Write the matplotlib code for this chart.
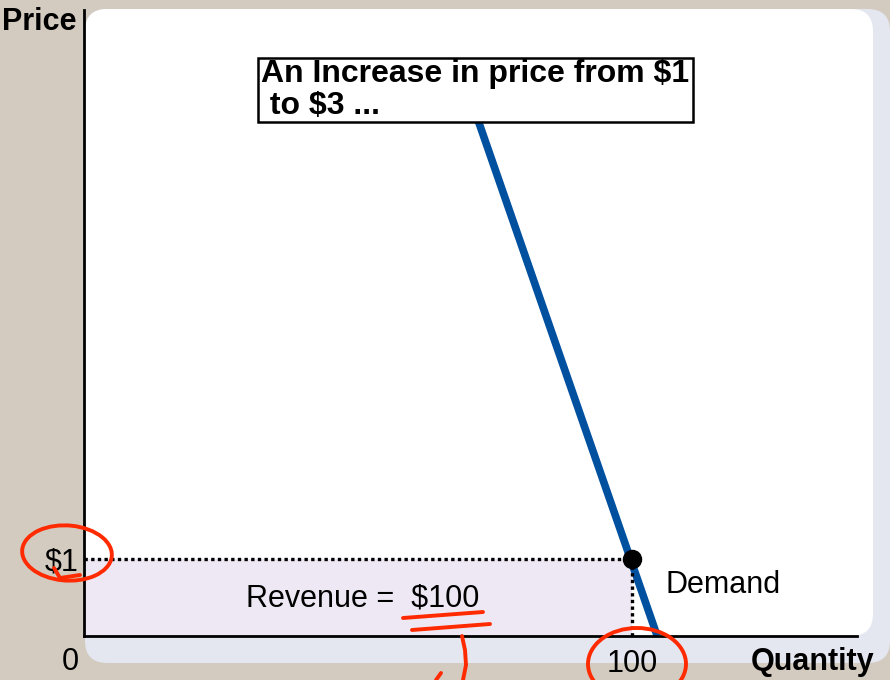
import matplotlib
matplotlib.use('Agg')
import matplotlib.pyplot as plt
from matplotlib.patches import FancyBboxPatch, Rectangle, Ellipse
import numpy as np

plt.rcParams['font.family'] = ['Liberation Sans', 'DejaVu Sans']

# demand curve (quantity, price)
demand_q = [104.6, 71.9]
demand_p = [0.0, 6.7]
# point on the curve
price = 1
quantity = 100
revenue = price * quantity

W, H = 890, 680
FS = 22
fig = plt.figure(figsize=(W / 100, H / 100), dpi=100)
fig.patch.set_facecolor('#d4cbc0')

def px(x, y):
    # pixel (from top-left) -> figure fraction
    return x / W, 1 - y / H

# slide panel: light bevel + white face
bevel = FancyBboxPatch(px(85, 663), (W - 85) / W, (663 - 9) / H,
                       boxstyle='round,pad=0,rounding_size=0.025',
                       transform=fig.transFigure, fc='#e4e7ef', ec='none',
                       mutation_aspect=W / H, zorder=-2)
face = FancyBboxPatch(px(85, 636), (873 - 85) / W, (636 - 9) / H,
                      boxstyle='round,pad=0,rounding_size=0.025',
                      transform=fig.transFigure, fc='white', ec='none',
                      mutation_aspect=W / H, zorder=-1)
fig.patches.extend([bevel, face])

ax = fig.add_axes([84 / W, 44 / H, 773 / W, 626 / H])
ax.set_zorder(2)
ax.patch.set_alpha(0)
ax.set_xlim(0, 773 / 5.48)
ax.set_ylim(0, 626 / 77)
for s in ['top', 'right']:
    ax.spines[s].set_visible(False)
for s in ['left', 'bottom']:
    ax.spines[s].set_linewidth(2)
    ax.spines[s].set_zorder(5)

# revenue rectangle
ax.fill_between([0, quantity], 0, price, color='#ede8f3', zorder=1, lw=0)
ax.plot([0, quantity], [price, price], ls=(0, (1, 1)), color='black', lw=2.4, zorder=3)
ax.plot([quantity, quantity], [0, price], ls=(0, (1, 1)), color='black', lw=2.4, zorder=3)

ax.plot(demand_q, demand_p, color='#0050a0', lw=5.5, solid_capstyle='butt', zorder=2)
ax.plot([quantity], [price], 'o', color='black', ms=13, zorder=4)

ax.set_xticks([quantity], ['100'])
ax.set_yticks([price], ['$1'])
ax.tick_params(length=0, labelsize=FS)
ax.tick_params(axis='x', pad=9)
ax.tick_params(axis='y', pad=4)

ax.text(quantity / 2 + 0.9, 0.49, 'Revenue =  $%d' % revenue, fontsize=FS,
        ha='center', va='center', zorder=3)
ax.text(106.2, 0.66, 'Demand', fontsize=FS, ha='left', va='center')

fig.text(*px(2, 22), 'Price', fontsize=FS, fontweight='bold', ha='left', va='center', zorder=3)
fig.text(*px(874, 662), 'Quantity', fontsize=FS, fontweight='bold', ha='right', va='center', zorder=3)
fig.text(*px(70, 662), '0', fontsize=FS, ha='center', va='center', zorder=3)

# callout box
box = Rectangle(px(258, 122), (693 - 258) / W, (122 - 58) / H, transform=fig.transFigure,
                fc='white', ec='black', lw=1.8, zorder=6)
fig.add_artist(box)
fig.text(*px(261, 59), 'An Increase in price from $1\n to $3 ...', fontsize=23,
         fontweight='bold', ha='left', va='top', linespacing=1.08, zorder=7)

# red pen marks
red = '#ff2a00'
for cx, cy, w, h, a in [(67, 553, 90, 55, -8), (637, 664, 98, 72, 0)]:
    e = Ellipse(px(cx, cy), w / W, h / H, angle=a, transform=fig.transFigure,
                fill=False, ec=red, lw=2.8, zorder=8)
    fig.add_artist(e)
strokes = [
    ([403, 483], [618, 612]),
    ([412, 490], [630, 624]),
    ([462, 465, 466, 463], [636, 650, 665, 680]),
    ([441, 436], [673, 680]),
    ([54, 60, 80], [568, 578, 575]),
]
for xs, ys in strokes:
    fig.add_artist(plt.Line2D(np.array(xs) / W, 1 - np.array(ys) / H,
                              color=red, lw=2.8, solid_capstyle='round', zorder=8))

fig.savefig('out.png', dpi=100, facecolor=fig.get_facecolor())
